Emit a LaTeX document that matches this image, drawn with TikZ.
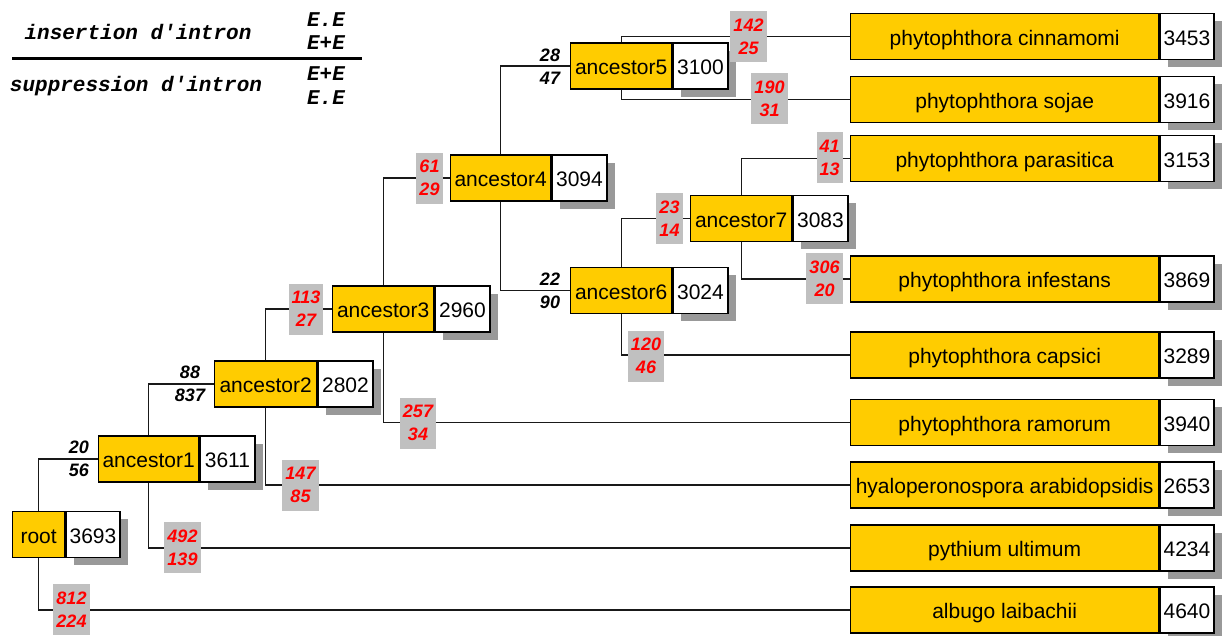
\documentclass[tikz,border=0pt]{standalone}
\usepackage{fontspec}
\setmainfont{Liberation Sans}
\newfontfamily\legendfont{Liberation Mono}
\usetikzlibrary{shadows,backgrounds}
\definecolor{nodeyellow}{HTML}{FFCC00}
\definecolor{labgray}{HTML}{C0C0C0}
\definecolor{shadegray}{HTML}{999999}
\definecolor{edgered}{HTML}{FF0000}

\begin{document}
\begin{tikzpicture}[x=1pt,y=-1pt,
  box/.style={draw=black,line width=1.3pt,minimum height=46pt,inner sep=0pt,
    text height=17pt,text depth=0pt,font=\fontsize{21}{24}\selectfont},
  taxon/.style={box,fill=nodeyellow,anchor=west},
  tally/.style={box,fill=white,anchor=west,minimum width=55pt,
    drop shadow={shadow xshift=8pt,shadow yshift=-7.5pt,fill=shadegray,opacity=1}},
  link/.style={draw=black!90,line width=1.3pt},
  cnt/.style={align=center,inner xsep=3pt,inner ysep=0pt,minimum height=51pt,
    font=\fontsize{18}{23}\selectfont\bfseries\itshape},
  redlab/.style={cnt,fill=labgray,text=edgered},
  blklab/.style={cnt,text=black},
  legend/.style={inner sep=0pt,font=\legendfont\fontsize{21}{24}\selectfont\bfseries\itshape},
]
\useasboundingbox (0,0) rectangle (1225,635);

% legend
\node[legend] (ins) at (138,32) {insertion d'intron};
\node[legend] (sup) at (136,86) {suppression d'intron};
\node[legend] (i1) at (326,20) {E.E};
\node[legend] (i2) at (326,43) {E+E};
\node[legend] (s1) at (326,74) {E+E};
\node[legend] (s2) at (326,98) {E.E};
\draw[line width=3pt] (12,58) -- (362,58);

% internal nodes
\node[taxon,minimum width=52pt] (root) at (12,534.5) {root};
\node[tally,minimum width=54pt] (rootn) at (root.east) {3693};
\node[taxon,minimum width=100pt] (a1) at (98,459) {ancestor1};
\node[tally] (a1n) at (a1.east) {3611};
\node[taxon,minimum width=102pt] (a2) at (214,384) {ancestor2};
\node[tally] (a2n) at (a2.east) {2802};
\node[taxon,minimum width=101pt] (a3) at (332,309) {ancestor3};
\node[tally] (a3n) at (a3.east) {2960};
\node[taxon,minimum width=100pt] (a4) at (450,178) {ancestor4};
\node[tally] (a4n) at (a4.east) {3094};
\node[taxon,minimum width=101pt] (a5) at (570,66) {ancestor5};
\node[tally] (a5n) at (a5.east) {3100};
\node[taxon,minimum width=101pt] (a6) at (570,290.5) {ancestor6};
\node[tally] (a6n) at (a6.east) {3024};
\node[taxon,minimum width=101pt] (a7) at (690,218.5) {ancestor7};
\node[tally] (a7n) at (a7.east) {3083};

% leaves
\foreach \id/\yy/\nm/\num in {
  l1/36.5/phytophthora cinnamomi/3453,
  l2/99.5/phytophthora sojae/3916,
  l3/158.5/phytophthora parasitica/3153,
  l4/279/phytophthora infestans/3869,
  l5/355/phytophthora capsici/3289,
  l6/422.5/phytophthora ramorum/3940,
  l7/485/hyaloperonospora arabidopsidis/2653,
  l8/548/pythium ultimum/4234,
  l9/610/albugo laibachii/4640}{
  \node[taxon,minimum width=308pt] (\id) at (850,\yy) {\nm};
  \node[tally,minimum width=54pt] (\id n) at (\id.east) {\num};
}

% branches
\begin{scope}[on background layer]
\draw[link] (root.north) |- (a1.west);
\draw[link] (root.south) |- (l9.west);
\draw[link] (a1.north) |- (a2.west);
\draw[link] (a1.south) |- (l8.west);
\draw[link] (a2.north) |- (a3.west);
\draw[link] (a2.south) |- (l7.west);
\draw[link] (a3.north) |- (a4.west);
\draw[link] (a3.south) |- (l6.west);
\draw[link] (a4.north) |- (a5.west);
\draw[link] (a4.south) |- (a6.west);
\draw[link] (a5.north) |- (l1.west);
\draw[link] (a5.south) |- (l2.west);
\draw[link] (a6.north) |- (a7.west);
\draw[link] (a6.south) |- (l5.west);
\draw[link] (a7.north) |- (l3.west);
\draw[link] (a7.south) |- (l4.west);
\end{scope}

% branch counts
\node[blklab] (e1) at (79,459) {20\\56};
\node[blklab] (e2) at (190,384) {88\\837};
\node[blklab] (e3) at (550,66.5) {28\\47};
\node[blklab] (e4) at (550,291) {22\\90};
\node[redlab] (e5) at (71.5,609.5) {812\\224};
\node[redlab] (e6) at (182.5,547.5) {492\\139};
\node[redlab] (e7) at (300.5,485) {147\\85};
\node[redlab] (e8) at (306,309) {113\\27};
\node[redlab] (e9) at (418,423) {257\\34};
\node[redlab] (e10) at (429.5,178) {61\\29};
\node[redlab] (e11) at (748.5,36.5) {142\\25};
\node[redlab] (e12) at (769.5,98.5) {190\\31};
\node[redlab] (e13) at (669.5,218.5) {23\\14};
\node[redlab] (e14) at (829.5,157.5) {41\\13};
\node[redlab] (e15) at (824.5,278.5) {306\\20};
\node[redlab] (e16) at (646,356) {120\\46};
\end{tikzpicture}
\end{document}
